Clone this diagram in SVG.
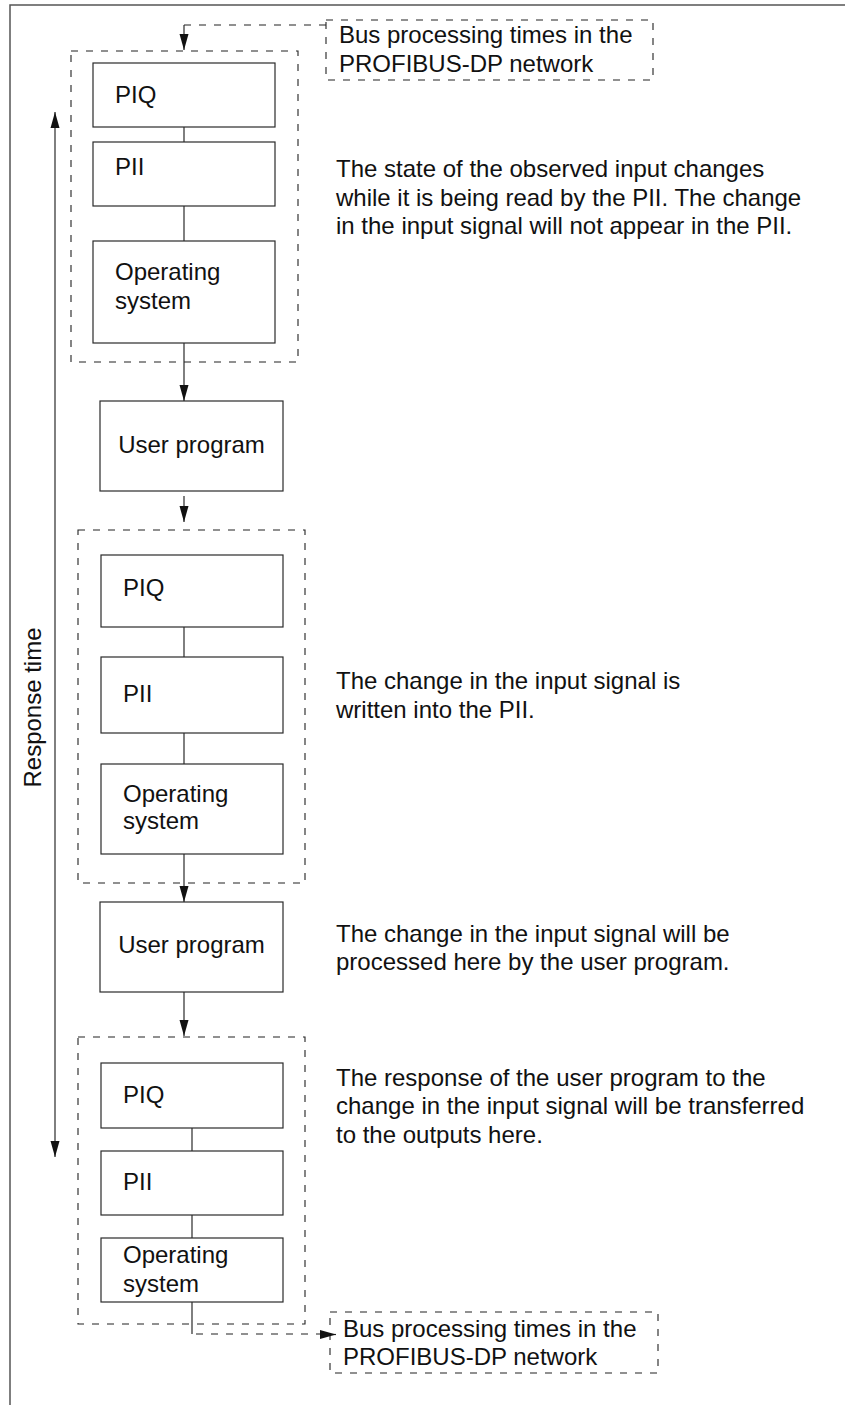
<svg xmlns="http://www.w3.org/2000/svg" width="845" height="1405" viewBox="0 0 845 1405">
  <defs>
    <style>
      text { font-family: "Liberation Sans", Arial, sans-serif; font-size: 24px; fill: #111; }
      .box { fill: #fff; stroke: #2a2a2a; stroke-width: 1.2; }
      .group { fill: none; stroke: #222; stroke-width: 1.1; stroke-dasharray: 7 8; }
      .line { fill: none; stroke: #2a2a2a; stroke-width: 1.2; }
      .dash { fill: none; stroke: #222; stroke-width: 1.1; stroke-dasharray: 7 8; }
      .frame { fill: none; stroke: #555; stroke-width: 1.5; }
      .mid { text-anchor: middle; }
    </style>
    <marker id="arrow" markerWidth="16" markerHeight="10" refX="16" refY="5" orient="auto" markerUnits="userSpaceOnUse">
      <path d="M0,0.5 L16,5 L0,9.5 Z" fill="#111"/>
    </marker>
  </defs>

  <rect width="845" height="1405" fill="#fff"/>

  <!-- page frame -->
  <path class="frame" d="M10,1405 V5 H845"/>

  <!-- response time span -->
  <g id="response-time">
    <line class="line" x1="55" y1="640" x2="55" y2="112" marker-end="url(#arrow)"/>
    <line class="line" x1="55" y1="640" x2="55" y2="1157" marker-end="url(#arrow)"/>
    <text transform="translate(41,707.5) rotate(-90)" class="mid">Response time</text>
  </g>

  <!-- bus processing (input side) -->
  <g id="bus-in">
    <rect class="group" x="326" y="20" width="327" height="60"/>
    <text x="339" y="43">Bus processing times in the</text>
    <text x="339" y="72">PROFIBUS-DP network</text>
  </g>

  <!-- cycle 1 -->
  <g id="cycle1">
    <rect class="group" x="71" y="51" width="227" height="311"/>
  </g>
  <g id="piq1">
    <rect class="box" x="93" y="63" width="182" height="64"/>
    <text x="115" y="103">PIQ</text>
  </g>
  <g id="pii1">
    <rect class="box" x="93" y="142" width="182" height="64"/>
    <text x="115" y="175">PII</text>
  </g>
  <g id="os1">
    <rect class="box" x="93" y="241" width="182" height="102"/>
    <text x="115" y="280">Operating</text>
    <text x="115" y="309">system</text>
  </g>
  <g id="user1">
    <rect class="box" x="100" y="401" width="183" height="90"/>
    <text x="191.5" y="453" class="mid">User program</text>
  </g>

  <!-- cycle 2 -->
  <g id="cycle2">
    <rect class="group" x="78" y="530" width="227" height="353"/>
  </g>
  <g id="piq2">
    <rect class="box" x="101" y="555" width="182" height="72"/>
    <text x="123" y="596">PIQ</text>
  </g>
  <g id="pii2">
    <rect class="box" x="101" y="657" width="182" height="76"/>
    <text x="123" y="702">PII</text>
  </g>
  <g id="os2">
    <rect class="box" x="101" y="764" width="182" height="90"/>
    <text x="123" y="802">Operating</text>
    <text x="123" y="829">system</text>
  </g>
  <g id="user2">
    <rect class="box" x="100" y="902" width="183" height="90"/>
    <text x="191.5" y="953" class="mid">User program</text>
  </g>

  <!-- cycle 3 -->
  <g id="cycle3">
    <rect class="group" x="78" y="1037" width="227" height="287"/>
  </g>
  <g id="piq3">
    <rect class="box" x="101" y="1063" width="182" height="65"/>
    <text x="123" y="1103">PIQ</text>
  </g>
  <g id="pii3">
    <rect class="box" x="101" y="1151" width="182" height="64"/>
    <text x="123" y="1190">PII</text>
  </g>
  <g id="os3">
    <rect class="box" x="101" y="1238" width="182" height="64"/>
    <text x="123" y="1263">Operating</text>
    <text x="123" y="1292">system</text>
  </g>

  <!-- bus processing (output side) -->
  <g id="bus-out">
    <rect class="group" x="330" y="1312" width="328" height="61"/>
    <text x="343" y="1337">Bus processing times in the</text>
    <text x="343" y="1365">PROFIBUS-DP network</text>
  </g>

  <!-- explanatory notes -->
  <g id="note1">
    <text x="336" y="177">The state of the observed input changes</text>
    <text x="336" y="205.5">while it is being read by the PII. The change</text>
    <text x="336" y="234">in the input signal will not appear in the PII.</text>
  </g>
  <g id="note2">
    <text x="336" y="689">The change in the input signal is</text>
    <text x="336" y="718">written into the PII.</text>
  </g>
  <g id="note3">
    <text x="336" y="942">The change in the input signal will be</text>
    <text x="336" y="970">processed here by the user program.</text>
  </g>
  <g id="note4">
    <text x="336" y="1086">The response of the user program to the</text>
    <text x="336" y="1114">change in the input signal will be transferred</text>
    <text x="336" y="1143">to the outputs here.</text>
  </g>

  <!-- connectors -->
  <g id="connectors">
    <path class="dash" d="M326,25 H184"/>
    <line class="line" x1="184" y1="25" x2="184" y2="50" marker-end="url(#arrow)"/>
    <line class="line" x1="184" y1="127" x2="184" y2="142"/>
    <line class="line" x1="184" y1="206" x2="184" y2="241"/>
    <line class="line" x1="184" y1="343" x2="184" y2="401" marker-end="url(#arrow)"/>
    <line class="line" x1="184" y1="496" x2="184" y2="522" marker-end="url(#arrow)"/>
    <line class="line" x1="184" y1="627" x2="184" y2="657"/>
    <line class="line" x1="184" y1="733" x2="184" y2="764"/>
    <line class="line" x1="184" y1="854" x2="184" y2="902" marker-end="url(#arrow)"/>
    <line class="line" x1="184" y1="992" x2="184" y2="1036" marker-end="url(#arrow)"/>
    <line class="line" x1="192" y1="1128" x2="192" y2="1151"/>
    <line class="line" x1="192" y1="1215" x2="192" y2="1238"/>
    <line class="line" x1="192" y1="1302" x2="192" y2="1334"/>
    <path class="dash" d="M196,1334 H322"/>
    <line class="line" x1="320" y1="1334.5" x2="336" y2="1334.5" marker-end="url(#arrow)"/>
  </g>
</svg>
